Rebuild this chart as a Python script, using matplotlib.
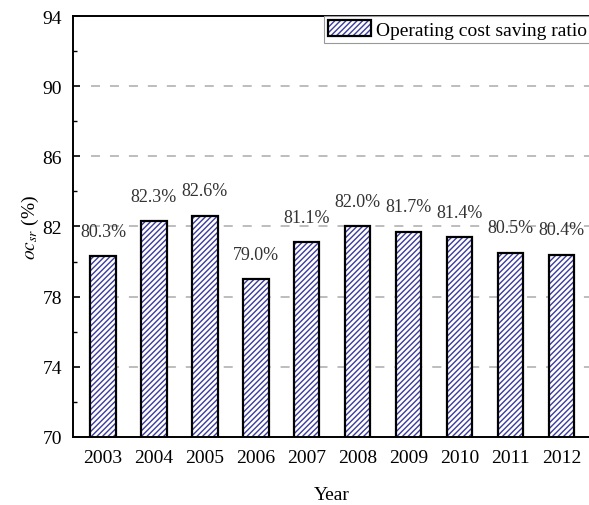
import numpy as np
import matplotlib
matplotlib.use('Agg')
import matplotlib.pyplot as plt
from matplotlib.patches import Patch

plt.rcParams['font.family'] = ['Liberation Serif', 'DejaVu Serif']
plt.rcParams['mathtext.fontset'] = 'stix'
plt.rcParams['hatch.linewidth'] = 1.0

# годы и доля экономии эксплуатационных затрат, %
years = ['2003', '2004', '2005', '2006', '2007', '2008', '2009', '2010', '2011', '2012']
saving_ratio = [80.3, 82.3, 82.6, 79.0, 81.1, 82.0, 81.7, 81.4, 80.5, 80.4]

hatch_color = '#3b3b9e'

fig = plt.figure(figsize=(5.89, 5.06), dpi=100)
ax = fig.add_axes([0.124, 0.1344, 0.88, 0.832])

x = np.arange(len(years))
# штриховка отдельно, контур отдельно (чтобы цвета линий различались)
ax.bar(x, saving_ratio, width=0.5, color='white', edgecolor=hatch_color,
       hatch='//////', linewidth=0, zorder=2)
ax.bar(x, saving_ratio, width=0.5, fill=False, edgecolor='black',
       linewidth=1.6, zorder=3)

for xi, v in zip(x, saving_ratio):
    ax.annotate(f'{v:.1f}%', (xi, v), xytext=(0, 18), textcoords='offset points',
                ha='center', va='center', fontsize=13, color='#333333')

ax.set_xlim(-0.59, len(years) - 1 + 0.59)
ax.set_ylim(70, 94)
ax.set_xticks(x)
ax.set_xticklabels(years)
ax.set_yticks(np.arange(70, 95, 4))
ax.set_yticks(np.arange(72, 94, 4), minor=True)
ax.tick_params(axis='y', which='major', direction='in', length=5, width=1.2,
               labelsize=14, pad=8)
ax.tick_params(axis='y', which='minor', direction='in', length=3, width=1.0)
ax.tick_params(axis='x', length=0, pad=9, labelsize=14)

# пунктирные линии сетки
for yv in [74, 78, 82, 86, 90]:
    ax.axhline(yv, xmin=0.035, color='#b8b8b8', linestyle=(0, (5, 5.5)),
               linewidth=1.3, zorder=1)

for s in ax.spines.values():
    s.set_linewidth(1.4)

ax.set_xlabel('Year', fontsize=14, labelpad=14)
ax.set_ylabel(r'$oc_{sr}$ (%)', fontsize=14, labelpad=1)

h_fill = Patch(facecolor='white', edgecolor=hatch_color, hatch='//////', linewidth=0)
h_edge = Patch(fill=False, edgecolor='black', linewidth=1.6)
leg = ax.legend([(h_fill, h_edge)], ['Operating cost saving ratio'],
                loc='upper right', bbox_to_anchor=(1.0, 1.0), borderaxespad=0,
                fontsize=14, fancybox=False, framealpha=1, edgecolor='#999999',
                handlelength=2.2, handleheight=0.9, handletextpad=0.3,
                borderpad=0.2)
leg.get_frame().set_linewidth(0.8)

fig.savefig('out.png', dpi=100)
